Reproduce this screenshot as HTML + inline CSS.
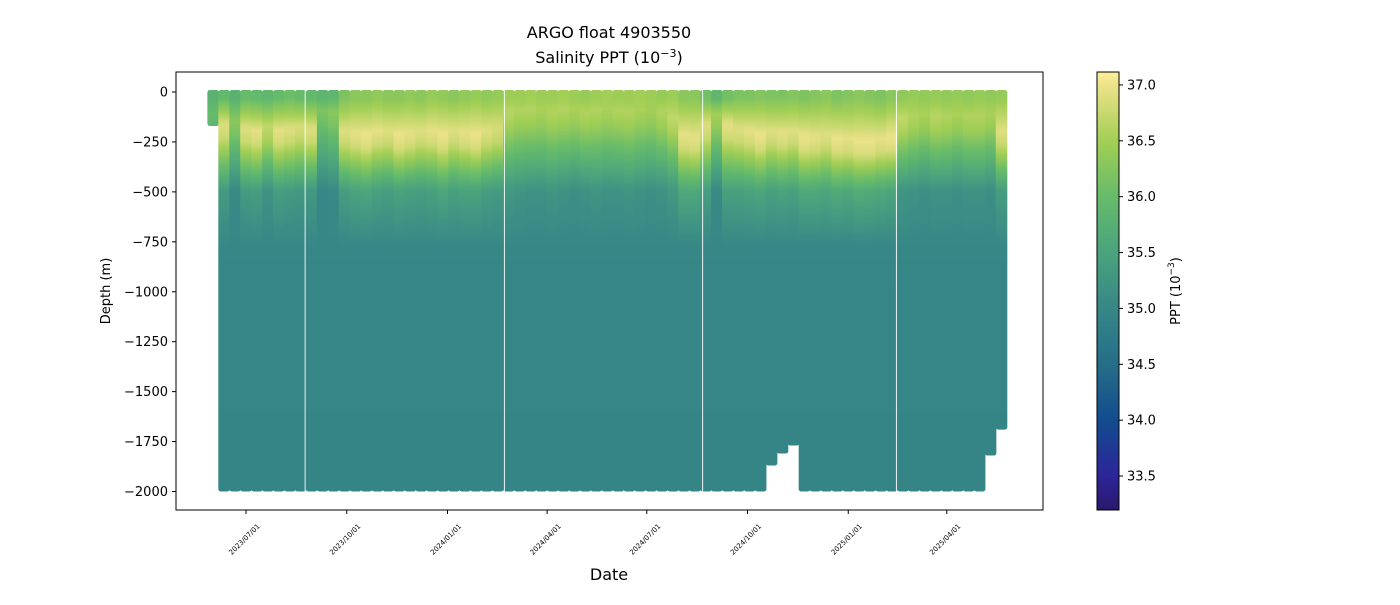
<!DOCTYPE html>
<html><head><meta charset="utf-8"><style>
html,body{margin:0;padding:0;background:#fff;}
svg text{font-family:"DejaVu Sans","Liberation Sans",sans-serif;fill:#000;}
</style></head><body>
<svg id="chart" width="1400" height="600" viewBox="0 0 1400 600" xmlns="http://www.w3.org/2000/svg">
<defs id="defs"></defs>
<text x="609" y="38" font-size="16" text-anchor="middle">ARGO float 4903550</text>
<text x="609" y="63" font-size="16" text-anchor="middle">Salinity PPT (10<tspan dy="-6" font-size="11">−3</tspan><tspan dy="6">)</tspan></text>
<g id="plot"></g>
<rect x="176" y="72" width="867" height="438" fill="none" stroke="#000" stroke-width="1"/>
<g id="yaxis"></g>
<g id="xaxis"></g>
<text transform="translate(110,291) rotate(-90)" font-size="13" text-anchor="middle">Depth (m)</text>
<text x="609" y="580" font-size="16" text-anchor="middle">Date</text>
<g id="cbar"></g>
<text transform="translate(1180,291) rotate(-90)" font-size="13" text-anchor="middle">PPT (10<tspan dy="-6" font-size="9">−3</tspan><tspan dy="6">)</tspan></text>
</svg>
<script>
// ---- data ----
const startDay = -30;           // days relative to 2023-07-01 of first profile
const cycleDays = 10;
const surfaceSal = [35.8,35.95,35.8,36.0,35.95,35.9,36.0,36.05,36.0,35.95,35.85,35.9,36.2,36.3,36.3,36.35,36.3,36.3,36.35,36.3,36.4,36.35,36.3,36.35,36.4,36.35,36.4,36.45,36.45,36.5,36.45,36.45,36.5,36.45,36.4,36.45,36.5,36.45,36.45,36.5,36.45,36.4,36.45,36.3,36.3,36.1,35.9,36.1,36.2,36.2,36.25,36.2,36.2,36.25,36.2,36.25,36.3,36.2,36.25,36.3,36.25,36.2,36.3,36.35,36.4,36.35,36.4,36.35,36.4,36.35,36.4,36.35,36.4];
const coreSal    = [36.0,36.9,36.3,36.9,36.95,36.7,36.95,36.9,36.85,36.9,36.2,36.3,36.9,36.95,37.0,36.95,36.9,37.0,36.95,36.9,36.95,37.0,36.9,36.95,37.0,36.9,36.85,36.65,36.6,36.6,36.55,36.6,36.6,36.55,36.6,36.6,36.55,36.6,36.6,36.55,36.5,36.6,36.7,36.95,36.95,36.9,36.5,36.95,36.9,36.95,37.0,36.9,36.95,36.9,37.0,36.95,36.9,37.0,36.95,37.0,37.0,36.95,37.0,36.7,36.6,36.55,36.65,36.6,36.55,36.6,36.6,36.55,36.9];
const coreDepth  = [100,170,150,190,200,180,200,190,180,190,100,110,200,210,220,200,200,220,210,200,200,220,200,210,220,200,190,110,100,100,100,110,100,100,110,100,100,100,110,100,100,110,140,220,230,170,120,170,190,200,220,200,210,200,230,230,220,240,240,250,250,240,230,140,130,120,130,130,120,130,130,120,200];
const sal500     = [35.4,35.35,35.05,35.35,35.4,35.2,35.4,35.35,35.3,35.3,35.0,35.05,35.4,35.5,35.55,35.45,35.4,35.5,35.45,35.4,35.45,35.55,35.45,35.5,35.5,35.4,35.35,35.3,35.25,35.2,35.2,35.25,35.2,35.15,35.2,35.25,35.2,35.2,35.25,35.2,35.15,35.2,35.3,35.6,35.6,35.4,35.05,35.45,35.45,35.5,35.55,35.45,35.5,35.45,35.6,35.6,35.55,35.65,35.6,35.7,35.65,35.6,35.55,35.25,35.2,35.15,35.2,35.2,35.15,35.2,35.2,35.15,35.4];
const maxDepth   = [160,1990,1990,1990,1990,1990,1990,1990,1990,1990,1990,1990,1990,1990,1990,1990,1990,1990,1990,1990,1990,1990,1990,1990,1990,1990,1990,1990,1990,1990,1990,1990,1990,1990,1990,1990,1990,1990,1990,1990,1990,1990,1990,1990,1990,1990,1990,1990,1990,1990,1990,1860,1800,1760,1990,1990,1990,1990,1990,1990,1990,1990,1990,1990,1990,1990,1990,1990,1990,1990,1990,1810,1680];
const gapDays = [54,236,417,594];
const xTickDays = [0,92,184,275,366,458,550,640];
const xTickLabels = ["2023/07/01","2023/10/01","2024/01/01","2024/04/01","2024/07/01","2024/10/01","2025/01/01","2025/04/01"];
const yTicks = [0,-250,-500,-750,-1000,-1250,-1500,-1750,-2000];
const cbTicks = [33.5,34.0,34.5,35.0,35.5,36.0,36.5,37.0];
const cmin = 33.196, cmax = 37.116;

// ---- scales ----
const NS = "http://www.w3.org/2000/svg";
const xs = d => 246 + d * 1.095;
const ys = v => 92 + (-v) * (399.5 / 2000);
const cstops = [[33.196,[42,24,108]],[33.5,[45,37,153]],[34.0,[18,76,142]],[34.5,[37,110,136]],[35.0,[55,135,135]],[35.5,[74,163,125]],[36.0,[102,187,106]],[36.5,[163,207,85]],[37.0,[237,226,138]],[37.116,[253,238,154]]];
function color(s){
  if (s<=cstops[0][0]) s=cstops[0][0];
  if (s>=cstops[cstops.length-1][0]) s=cstops[cstops.length-1][0];
  for (let i=0;i<cstops.length-1;i++){
    const a=cstops[i],b=cstops[i+1];
    if (s>=a[0]&&s<=b[0]){const t=(s-a[0])/(b[0]-a[0]);
      return "rgb("+a[1].map((c,k)=>Math.round(c+(b[1][k]-c)*t)).join(",")+")";}
  }
}
function mk(tag, attrs, parent){const e=document.createElementNS(NS,tag);for(const k in attrs)e.setAttribute(k,attrs[k]);parent.appendChild(e);return e;}
function salAt(i,z){
  const nodes=[[0,surfaceSal[i]],[40,surfaceSal[i]],[coreDepth[i],coreSal[i]],[coreDepth[i]+70,coreSal[i]-0.15],[500,sal500[i]],[780,35.0],[1000,34.97],[2000,34.95]];
  for(let k=0;k<nodes.length-1;k++){const a=nodes[k],b=nodes[k+1];
    if(z>=a[0]&&z<=b[0]) return a[1]+(b[1]-a[1])*(z-a[0])/Math.max(1,b[0]-a[0]);}
  return 34.95;
}
const defs=document.getElementById('defs'), plot=document.getElementById('plot');
const w = cycleDays*1.095+0.6;
for (let i=0;i<surfaceSal.length;i++){
  const day=startDay+i*cycleDays, md=maxDepth[i];
  const g=mk('linearGradient',{id:'pg'+i,x1:0,y1:0,x2:0,y2:1},defs);
  for(let z=0;z<=md;z+=20){mk('stop',{offset:(z/md).toFixed(4),'stop-color':color(salAt(i,z))},g);}
  const r=mk('rect',{x:(xs(day)-w/2).toFixed(2),y:ys(0)-2,width:w.toFixed(2),height:(ys(-md)-ys(0)+4).toFixed(2),rx:2.5,fill:'url(#pg'+i+')'},plot);
  
  
}
gapDays.forEach(d=>{
  const l=mk('rect',{x:xs(d)-0.5,y:ys(0)-3,width:1,height:ys(-2000)-ys(0)+6,fill:'#fff',opacity:0.9},plot);
  
  
});
const ya=document.getElementById('yaxis');
yTicks.forEach(v=>{
  const y=ys(v);
  const t=mk('line',{x1:172,x2:176,y1:y,y2:y,stroke:'#000'},ya);
  
  
  const tx=mk('text',{x:168,y:y+4.5,'font-size':13,'text-anchor':'end'},ya);
  tx.textContent=(v<0?'−':'')+Math.abs(v);
  
  
});
const xa=document.getElementById('xaxis');
xTickDays.forEach((d,i)=>{
  const x=xs(d);
  const t=mk('line',{x1:x,x2:x,y1:510,y2:514,stroke:'#000'},xa);
  
  
  const tx=mk('text',{transform:`translate(${x},${541}) rotate(-45)`,'font-size':7,'text-anchor':'middle'},xa);
  tx.textContent=xTickLabels[i];
  
  
});
const cb=document.getElementById('cbar');
const cg=mk('linearGradient',{id:'cbg',x1:0,y1:1,x2:0,y2:0},defs);
cstops.forEach(s=>mk('stop',{offset:((s[0]-cmin)/(cmax-cmin)).toFixed(4),'stop-color':'rgb('+s[1].join(',')+')'},cg));
const cr=mk('rect',{x:1097,y:72,width:22,height:438,fill:'url(#cbg)',stroke:'#000','stroke-width':1},cb);


const cy=v=>510-(v-cmin)/(cmax-cmin)*438;
cbTicks.forEach(v=>{
  const y=cy(v);
  const t=mk('line',{x1:1119,x2:1123,y1:y,y2:y,stroke:'#000'},cb);
  
  
  const tx=mk('text',{x:1127,y:y+4.5,'font-size':13},cb);
  tx.textContent=v.toFixed(1);
  
  
});
</script>
</body></html>
